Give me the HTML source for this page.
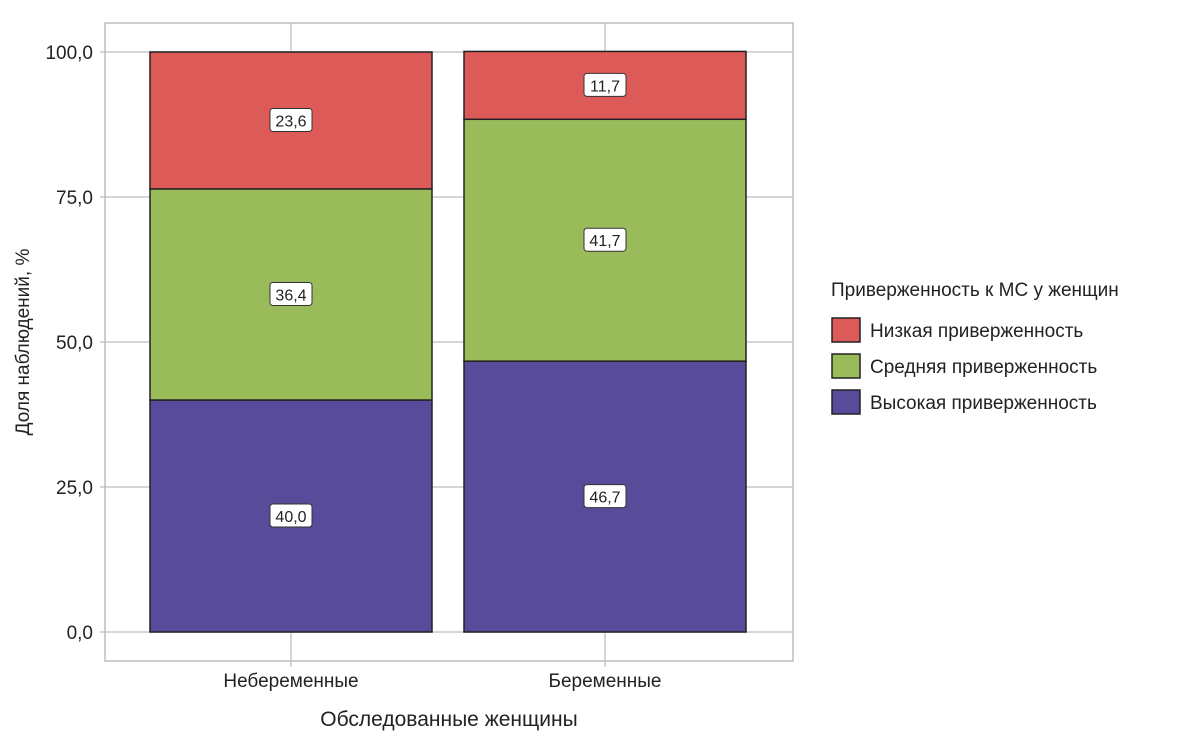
<!DOCTYPE html>
<html><head><meta charset="utf-8"><style>
body{margin:0;background:#fff;}
svg{display:block;font-family:"Liberation Sans","DejaVu Sans",sans-serif;}
</style></head><body>
<svg id="chart" width="1200" height="736"></svg>
<script>
const categories = ["Небеременные", "Беременные"];
const seriesNames = ["Высокая приверженность", "Средняя приверженность", "Низкая приверженность"];
const highVals = [40.0, 46.7];
const midVals = [36.4, 41.7];
const lowVals = [23.6, 11.7];
const yTicks = [0, 25, 50, 75, 100];
const yTickLabels = ["0,0", "25,0", "50,0", "75,0", "100,0"];
const colors = ["#584c9a", "#99bb5a", "#dc5a58"];

const NS = "http://www.w3.org/2000/svg";
const svg = document.getElementById("chart");
const X0 = 105, X1 = 793, YT = 23, YB = 661;
const yScale = v => 632 - v * 5.8;
const bandW = (X1 - X0) / categories.length;
const xCenter = i => X0 + bandW * (i + 0.5) - 52 + i * 52 * 2 / 1 * 0.5 + (i===0?0:0);
function cx(i){ return i === 0 ? 291 : 605; }
const barW = 282;
function el(tag, attrs, parent){ const e = document.createElementNS(NS, tag); for (const k in attrs) e.setAttribute(k, attrs[k]); (parent||svg).appendChild(e); return e; }

const grid = el("g", {});


yTicks.forEach((t, i) => {
  const y = yScale(t);
  const l = el("line", {x1: 100, x2: X1, y1: y, y2: y, stroke: "#c8c8c8", "stroke-width": 1.5}, grid);
  
  
  const tx = el("text", {x: 93, y: y + 7, "text-anchor": "end", "font-size": 19, fill: "#222"});
  tx.textContent = yTickLabels[i];
  
  
});
categories.forEach((c, i) => {
  const x = cx(i);
  const l = el("line", {x1: x, x2: x, y1: YT, y2: 667, stroke: "#c8c8c8", "stroke-width": 1.5}, grid);
  
  
  const tx = el("text", {x: x, y: 687, "text-anchor": "middle", "font-size": 19, fill: "#222"});
  tx.textContent = c;
  
  
});
const frame = el("rect", {x: X0, y: YT, width: X1 - X0, height: YB - YT, fill: "none", stroke: "#bdbdbd", "stroke-width": 1.5});



const series = [highVals, midVals, lowVals];
categories.forEach((c, i) => {
  let base = 0;
  series.forEach((vals, s) => {
    const v = vals[i];
    const y1 = yScale(base + v), y0 = yScale(base);
    const r = el("rect", {x: cx(i) - barW/2, y: y1, width: barW, height: y0 - y1, fill: colors[s], stroke: "#222", "stroke-width": 1.5});
    
    
    const my = (y0 + y1) / 2;
    const lb = el("rect", {x: cx(i) - 21, y: my - 12, width: 42, height: 23, rx: 3, fill: "#fff", stroke: "#333", "stroke-width": 1});
    
    
    const t = el("text", {x: cx(i), y: my + 6, "text-anchor": "middle", "font-size": 16, fill: "#222"});
    t.textContent = v.toFixed(1).replace(".", ",");
    
    
    base += v;
  });
});

const yt = el("text", {x: 0, y: 0, "text-anchor": "middle", "font-size": 19, fill: "#222", transform: "translate(29,342) rotate(-90)"});
yt.textContent = "Доля наблюдений, %";


const xt = el("text", {x: 449, y: 726, "text-anchor": "middle", "font-size": 21, fill: "#222"});
xt.textContent = "Обследованные женщины";



const lg = el("g", {});


const lt = el("text", {x: 831, y: 296, "font-size": 19, fill: "#222"}, lg);
lt.textContent = "Приверженность к МС у женщин";


[2, 1, 0].forEach((s, k) => {
  const y = 318 + k * 36;
  const sw = el("rect", {x: 832, y: y, width: 28, height: 24, fill: colors[s], stroke: "#222", "stroke-width": 1.5}, lg);
  
  
  const t = el("text", {x: 870, y: y + 19, "font-size": 19, fill: "#222"}, lg);
  t.textContent = seriesNames[s];
  
  
});
</script>
</body></html>
